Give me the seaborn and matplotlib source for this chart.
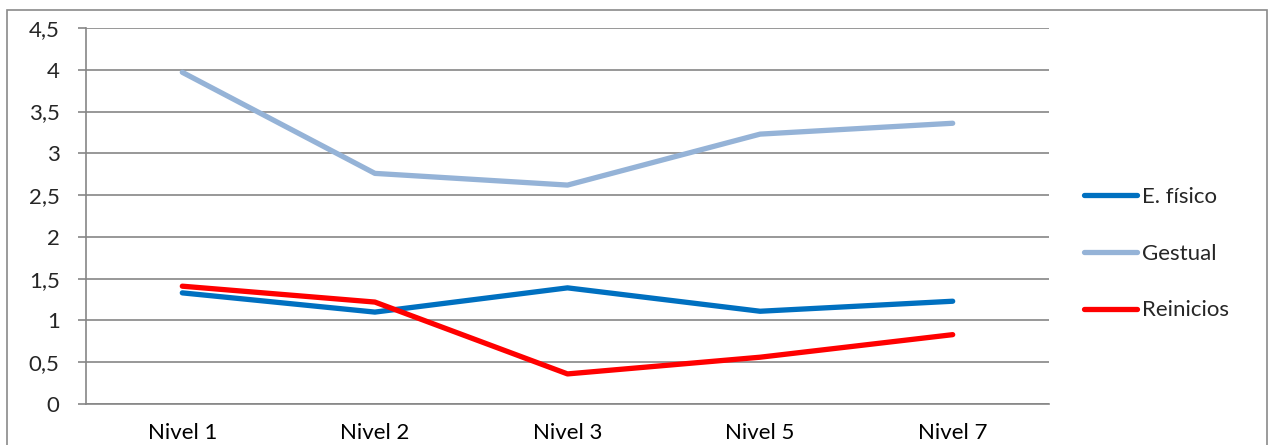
import matplotlib
matplotlib.use("Agg")
import matplotlib.pyplot as plt
from matplotlib.patches import Rectangle
from matplotlib.lines import Line2D
import seaborn as sns
import pandas as pd

niveles = ["Nivel 1", "Nivel 2", "Nivel 3", "Nivel 5", "Nivel 7"]
e_fisico = [1.33, 1.10, 1.39, 1.11, 1.23]
gestual = [3.97, 2.76, 2.62, 3.23, 3.36]
reinicios = [1.41, 1.22, 0.36, 0.56, 0.83]
series_names = ["E. físico", "Gestual", "Reinicios"]
colors = ["#0070C0", "#95B3D7", "#FF0000"]
y_ticks = [0, 0.5, 1, 1.5, 2, 2.5, 3, 3.5, 4, 4.5]
y_labels = ["0", "0,5", "1", "1,5", "2", "2,5", "3", "3,5", "4", "4,5"]

sns.set_theme(style="white")
plt.rcParams["font.family"] = ["Lato", "DejaVu Sans"]

rows = []
for name, vals in zip(series_names, [e_fisico, gestual, reinicios]):
    for i, v in enumerate(vals):
        rows.append({"pos": i, "valor": v, "serie": name})
df = pd.DataFrame(rows)

W, H = 1269, 445
FS = 16
fig = plt.figure(figsize=(W / 100, H / 100), dpi=100)
ax = fig.add_axes([86 / W, 1 - 404 / H, (1049 - 86) / W, (404 - 28) / H])

grid_c = "#868686"
for t in y_ticks:
    ax.axhline(t, color=grid_c, lw=1.2, zorder=1)

sns.lineplot(data=df, x="pos", y="valor", hue="serie", hue_order=series_names,
             palette=colors, linewidth=3.8, ax=ax, legend=False, zorder=3,
             solid_capstyle="round")

ax.set_xlim(-0.5, 4.5)
ax.set_ylim(0, 4.5)
ax.set_yticks(y_ticks)
ax.set_yticklabels(y_labels)
ax.set_xticks(range(len(niveles)))
ax.set_xticklabels(niveles)
ax.set_xlabel("")
ax.set_ylabel("")
ax.set_xticks([i - 0.5 for i in range(len(niveles) + 1)], minor=True)
ax.tick_params(axis="x", which="major", length=0, pad=14, labelsize=FS, colors="black")
ax.tick_params(axis="x", which="minor", length=6, width=1.2, color=grid_c, direction="out")
ax.tick_params(axis="y", length=6, width=1.2, color=grid_c, direction="out",
               labelsize=FS, pad=13, left=True)
for s in ["top", "right"]:
    ax.spines[s].set_visible(False)
for s in ["left", "bottom"]:
    ax.spines[s].set_color(grid_c)
    ax.spines[s].set_linewidth(1.2)

handles = [Line2D([0], [0], color=c, lw=3.8, solid_capstyle="round") for c in colors]
fig.legend(handles, series_names, loc="upper left",
           bbox_to_anchor=(1084 / W, 1 - 187 / H), frameon=False,
           fontsize=FS, handlelength=2.4, handletextpad=0.2, labelspacing=1.65,
           borderpad=0, borderaxespad=0)

fig.add_artist(Rectangle((7 / W, -0.1), (1267 - 7) / W, 1.1 - 10 / H,
                         transform=fig.transFigure, fill=False,
                         edgecolor="#8A8A8A", lw=1.2))

fig.savefig("out.png", dpi=100)
